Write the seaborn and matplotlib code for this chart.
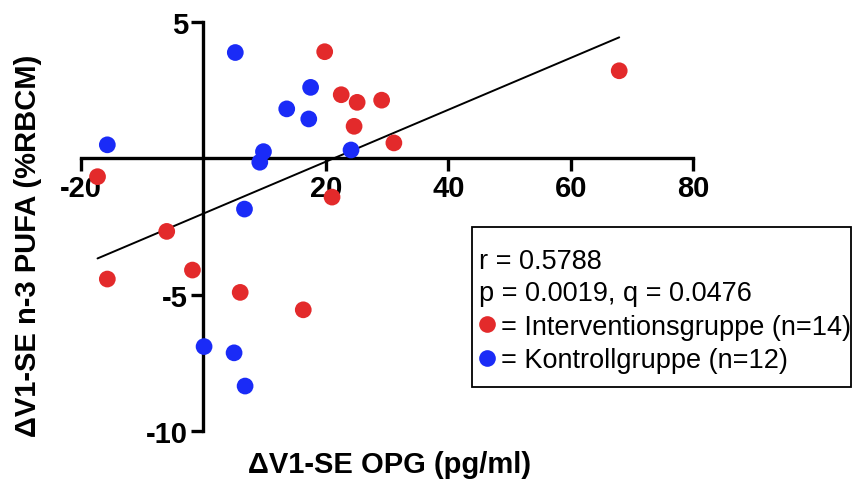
import numpy as np
import pandas as pd
import matplotlib.pyplot as plt
from matplotlib.lines import Line2D
from matplotlib.patches import Rectangle
import seaborn as sns

# Interventionsgruppe (rot), n=14
int_x = [19.8, 22.5, 25.1, 29.1, 24.6, 31.1, -17.3, 21.0, -6.0, 67.9, -15.7, -1.8, 6.0, 16.3]
int_y = [3.92, 2.34, 2.06, 2.14, 1.18, 0.57, -0.67, -1.42, -2.68, 3.22, -4.43, -4.10, -4.92, -5.56]

# Kontrollgruppe (blau), n=12
kon_x = [5.2, -15.7, 17.5, 13.6, 17.2, 9.8, 9.2, 24.1, 6.7, 0.1, 5.0, 6.8]
kon_y = [3.89, 0.50, 2.61, 1.82, 1.45, 0.25, -0.14, 0.31, -1.86, -6.91, -7.14, -8.36]

groups = ["Interventionsgruppe", "Kontrollgruppe"]
colors = {"Interventionsgruppe": "#E32A2B", "Kontrollgruppe": "#1A2BF7"}
legend_labels = ["= Interventionsgruppe (n=14)", "= Kontrollgruppe (n=12)"]
stats_text = "r = 0.5788\np = 0.0019, q = 0.0476"

xticks = [-20, 20, 40, 60, 80]
yticks = [-10, -5, 5]

df = pd.DataFrame({
    "x": int_x + kon_x,
    "y": int_y + kon_y,
    "group": [groups[0]] * len(int_x) + [groups[1]] * len(kon_x),
})

sns.set_style("white")
plt.rcParams["font.family"] = ["Liberation Sans", "DejaVu Sans"]
plt.rcParams["axes.unicode_minus"] = False
plt.rcParams["text.color"] = "black"
plt.rcParams["xtick.color"] = "black"
plt.rcParams["ytick.color"] = "black"
plt.rcParams["axes.labelcolor"] = "black"

fig = plt.figure(figsize=(8.56, 4.85), dpi=100)
ax = fig.add_axes([81 / 856, 1 - 431.7 / 485, 612.3 / 856, 408.4 / 485])

# regression line over all points
sns.regplot(data=df, x="x", y="y", scatter=False, ci=None, color="black",
            line_kws={"lw": 1.4, "zorder": 2.6}, ax=ax)
sns.scatterplot(data=df, x="x", y="y", hue="group", palette=colors, s=145,
                edgecolor="none", linewidth=0, legend=False, zorder=3, ax=ax)

ax.set_xlim(-20, 80)
ax.set_ylim(-10, 5)
ax.spines["left"].set_position(("data", 0))
ax.spines["bottom"].set_position(("data", 0))
ax.spines["top"].set_visible(False)
ax.spines["right"].set_visible(False)
for s in ["left", "bottom"]:
    ax.spines[s].set_linewidth(2.4)
    ax.spines[s].set_color("black")
ax.set_xticks(xticks)
ax.set_yticks(yticks)
ax.tick_params(axis="both", length=9, width=2.4, direction="out", color="black",
               labelcolor="black", labelsize=21, pad=2, bottom=True, left=True)
for lab in ax.get_xticklabels() + ax.get_yticklabels():
    lab.set_fontweight("bold")
ax.set_xlabel("")
ax.set_ylabel("")

fig.text(390 / 856, 1 - 465 / 485, "ΔV1-SE OPG (pg/ml)", ha="center", va="center",
         fontsize=21, fontweight="bold", color="black")
fig.text(28 / 856, 1 - 246 / 485, "ΔV1-SE n-3 PUFA (%RBCM)", ha="center", va="center",
         rotation=90, fontsize=21, fontweight="bold", color="black")

# legend box with statistics
handles = [Line2D([], [], marker="o", linestyle="none", markersize=12,
                  markerfacecolor=colors[g], markeredgewidth=0) for g in groups]
leg = ax.legend(handles, legend_labels, title=stats_text, loc="upper left",
                bbox_to_anchor=(479 / 856, 1 - 249 / 485), bbox_transform=fig.transFigure,
                frameon=False, fontsize=19.5, title_fontsize=19.5, alignment="left",
                borderpad=0, borderaxespad=0, handlelength=0.62, handletextpad=0.18,
                labelspacing=0.27, labelcolor="black")
leg.get_title().set_color("black")
leg.get_title().set_linespacing(1.32)
fig.add_artist(Rectangle((472 / 856, 1 - 388 / 485), 379 / 856, 160 / 485,
                         transform=fig.transFigure, fill=False, edgecolor="black", lw=1.3))

plt.savefig("out.png", dpi=100)
